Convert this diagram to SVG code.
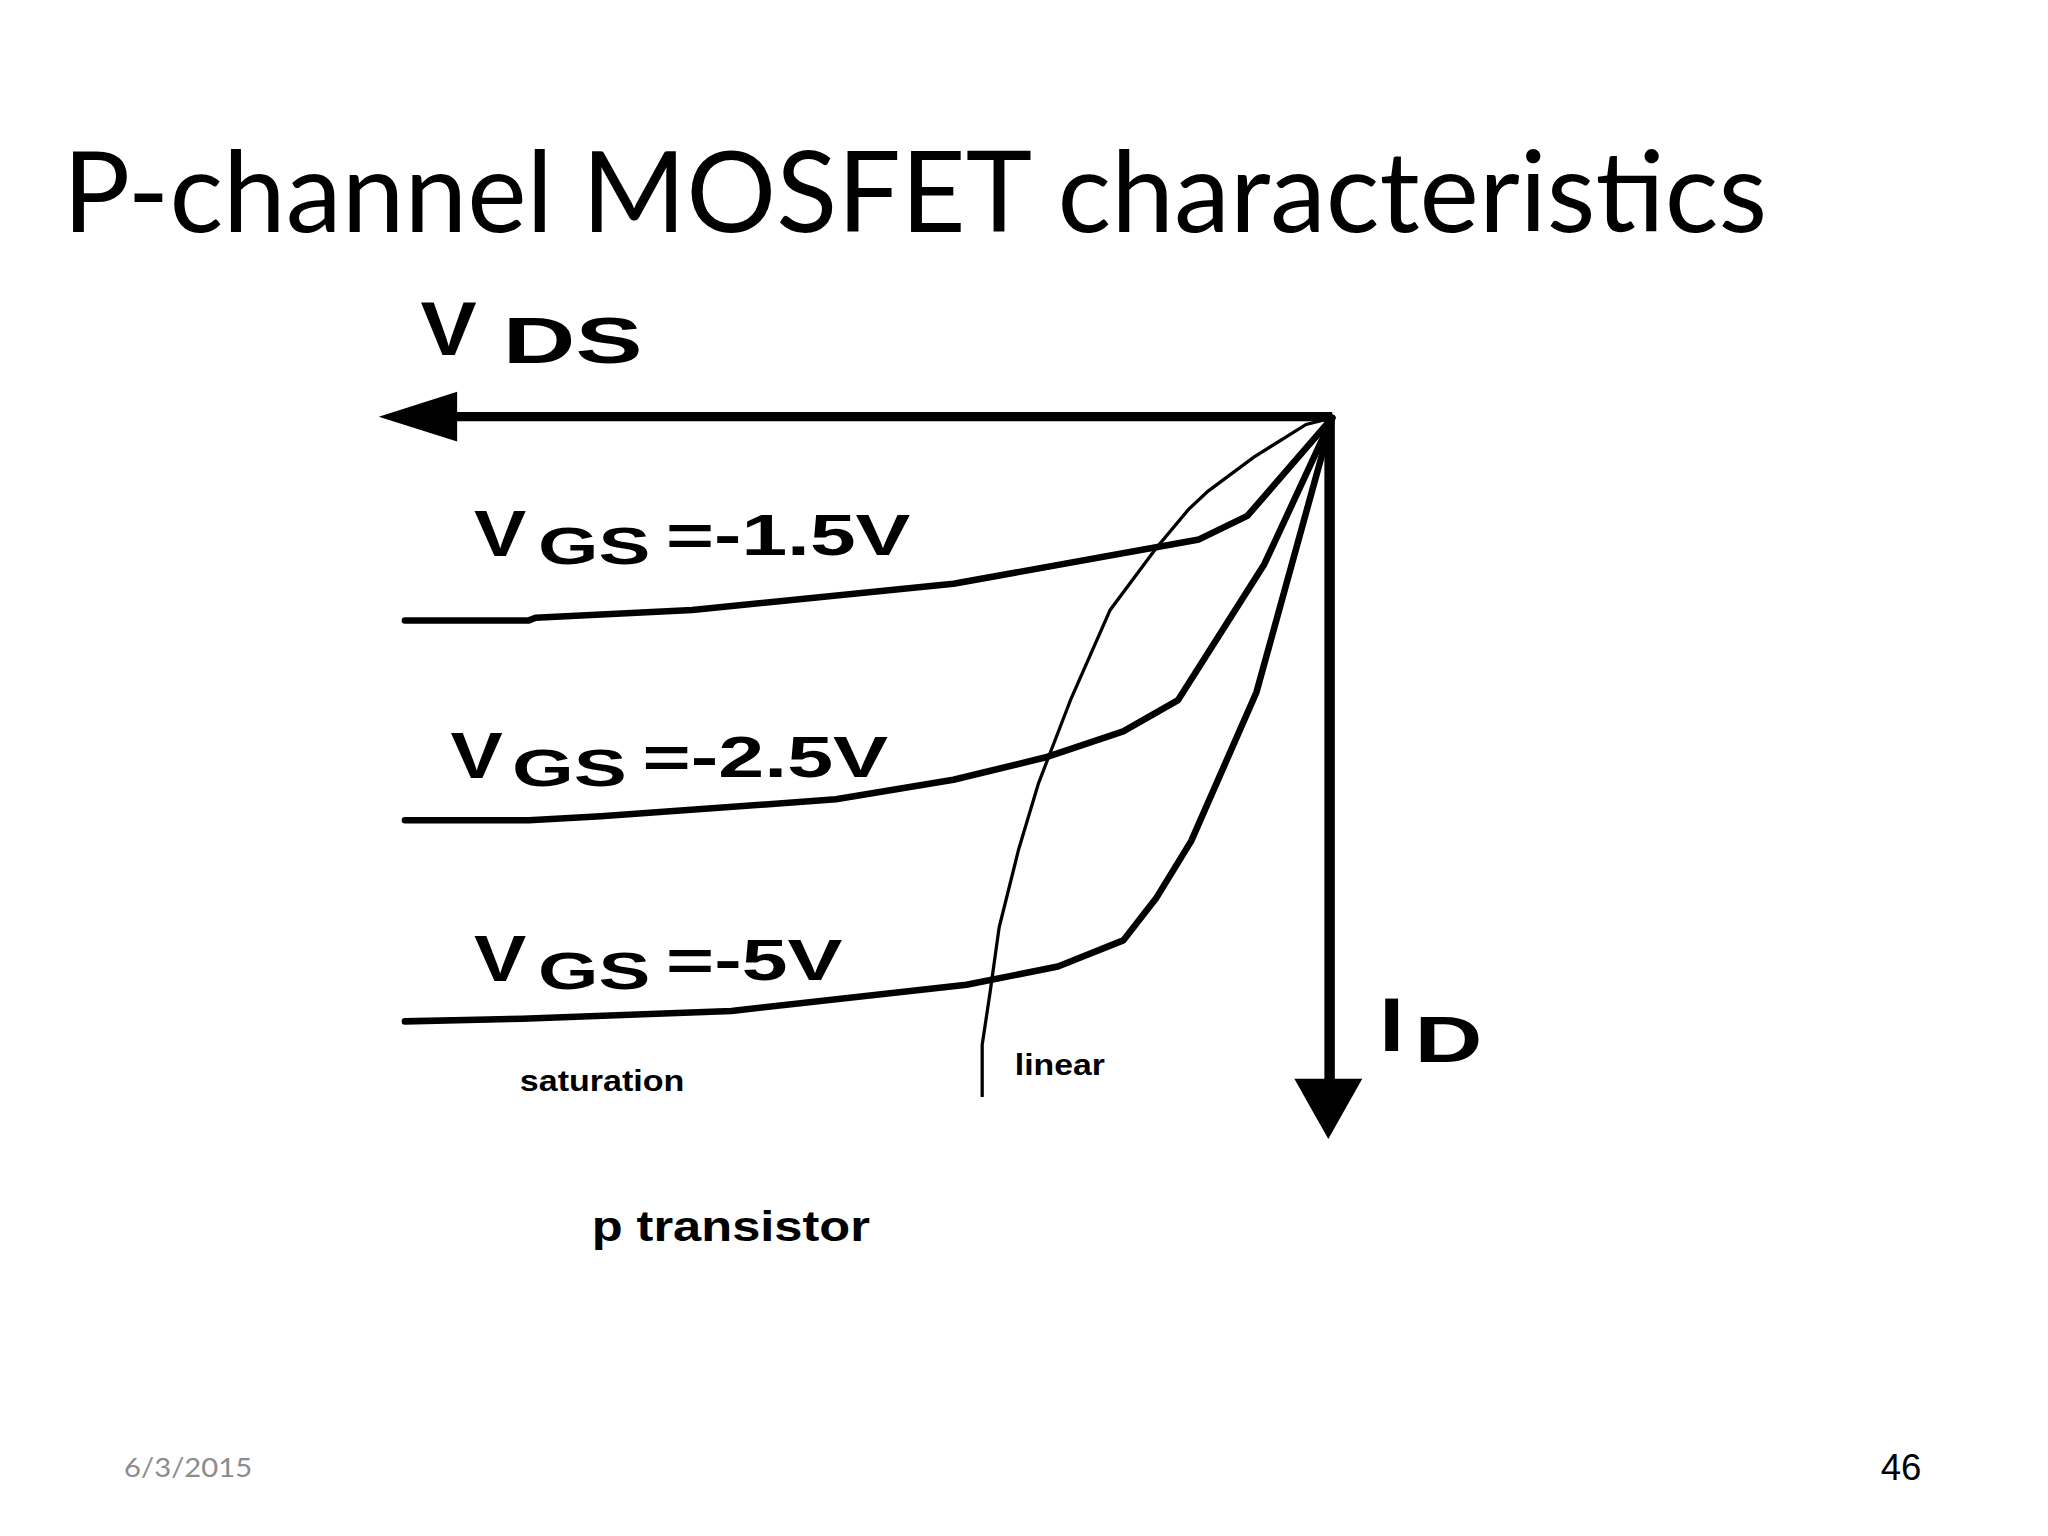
<svg xmlns="http://www.w3.org/2000/svg" width="2048" height="1536" viewBox="0 0 2048 1536">
<style>
.b{font-family:"Liberation Sans",Arial,sans-serif;font-weight:bold;fill:#000}
.c{fill:none;stroke:#000;stroke-width:5;stroke-linecap:round;stroke-linejoin:round}
.big{font-size:58px}
.mid{font-size:50px}
</style>
<rect width="2048" height="1536" fill="#fff"/>
<g transform="scale(1.3061)">
<text x="48" y="178" font-family="Lato,'Open Sans',sans-serif" font-size="86" fill="#000" textLength="1305" lengthAdjust="spacingAndGlyphs">P-channel MOSFET characteristics</text>
<g id="axes">
<line x1="1020" y1="319" x2="345" y2="319" stroke="#000" stroke-width="7"/>
<polygon points="290,319 350,300 350,338" fill="#000"/>
<line x1="1018" y1="319" x2="1018" y2="830" stroke="#000" stroke-width="8"/>
<polygon points="1017,872 991,826 1043,826" fill="#000"/>
<text class="b big" x="322" y="272" textLength="43" lengthAdjust="spacingAndGlyphs">V</text><text class="b mid" x="385" y="278" textLength="107" lengthAdjust="spacingAndGlyphs">DS</text>
<text class="b big" x="1056" y="805" textLength="19" lengthAdjust="spacingAndGlyphs">I</text><text class="b mid" x="1083" y="813" textLength="52" lengthAdjust="spacingAndGlyphs">D</text>
</g>
<g id="connectors">
<polyline class="c" points="310,475 405,475 410,473 530,467 730,447 918,413 955,395 1020,320"/>
<polyline class="c" points="310,628 405,628 460,625 640,612 730,597 800,580 860,560 902,536 968,432 1020,320"/>
<polyline class="c" points="310,782 400,780 560,774 740,754 810,740 860,720 885,688 912,644 962,530 1020,320"/>
<path d="M752,840 L752,800 758,760 765,710 780,650 795,600 820,535 850,467 885,420 910,390 925,376 960,350 1000,325 1020,320" fill="none" stroke="#000" stroke-width="2.5"/>
</g>
<g id="labels">
<text class="b mid" x="363" y="426" textLength="40" lengthAdjust="spacingAndGlyphs">V</text><text class="b" font-size="40" x="412" y="432" textLength="86" lengthAdjust="spacingAndGlyphs">GS</text><text class="b" font-size="44" x="510" y="425" textLength="187" lengthAdjust="spacingAndGlyphs">=-1.5V</text>
<text class="b mid" x="345" y="596" textLength="40" lengthAdjust="spacingAndGlyphs">V</text><text class="b" font-size="40" x="392" y="602" textLength="88" lengthAdjust="spacingAndGlyphs">GS</text><text class="b" font-size="44" x="492" y="595" textLength="188" lengthAdjust="spacingAndGlyphs">=-2.5V</text>
<text class="b mid" x="363" y="751" textLength="40" lengthAdjust="spacingAndGlyphs">V</text><text class="b" font-size="40" x="412" y="757" textLength="86" lengthAdjust="spacingAndGlyphs">GS</text><text class="b" font-size="44" x="510" y="750" textLength="135" lengthAdjust="spacingAndGlyphs">=-5V</text>
<text class="b" font-size="22" x="398" y="835" textLength="126" lengthAdjust="spacingAndGlyphs">saturation</text>
<text class="b" font-size="22" x="777" y="823" textLength="69" lengthAdjust="spacingAndGlyphs">linear</text>
<text class="b" font-size="33" x="453" y="950" textLength="213" lengthAdjust="spacingAndGlyphs">p transistor</text>
</g>
<text x="95" y="1131" font-family="Lato,sans-serif" font-size="20" fill="#8c8c8c" textLength="98" lengthAdjust="spacingAndGlyphs">6/3/2015</text>
<text x="1440" y="1133" font-family="'Liberation Sans',sans-serif" font-size="28" fill="#000">46</text>
</g>
</svg>
